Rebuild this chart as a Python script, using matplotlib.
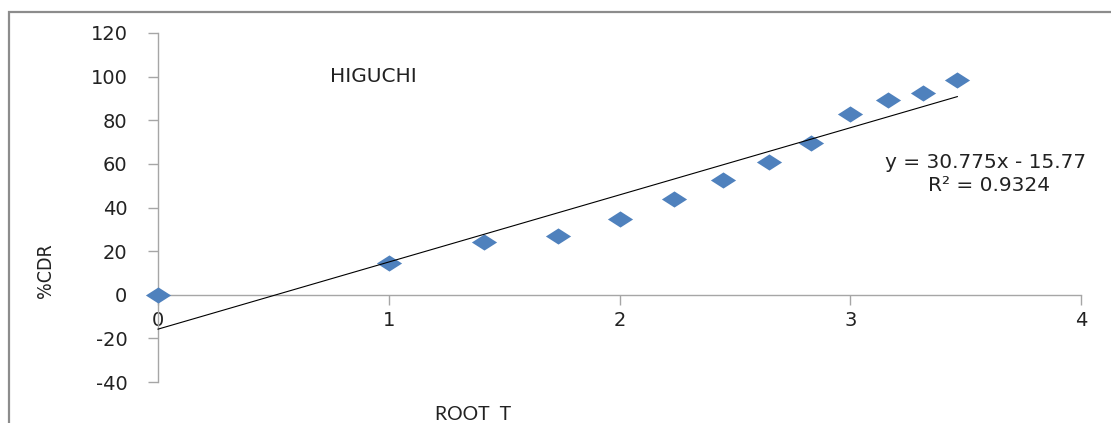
import matplotlib
matplotlib.use("Agg")
import matplotlib.pyplot as plt
from matplotlib.path import Path
from matplotlib.patches import Rectangle
import numpy as np

plt.rcParams["axes.unicode_minus"] = False

# Square root of time and cumulative % drug released
root_t = [0, 1, 1.414, 1.732, 2, 2.236, 2.449, 2.646, 2.828, 3, 3.162, 3.317, 3.464]
cdr = [0, 14.7, 24.3, 27.1, 34.9, 44.0, 52.8, 61.0, 69.7, 83.0, 89.4, 92.7, 98.6]

# Linear trendline reported on the chart
slope = 30.775
intercept = -15.77
r_squared = 0.9324

x_ticks = [0, 1, 2, 3, 4]
y_ticks = [-40, -20, 0, 20, 40, 60, 80, 100, 120]

fig = plt.figure(figsize=(11.11, 4.23), dpi=100)
ax = fig.add_axes([158 / 1111, 1 - 382 / 423, (1081 - 158) / 1111, (382 - 33) / 423])

# Outer chart frame (left and top edges visible)
frame_left = 8.5 / 1111
frame_top = 1 - 12 / 423
fig.patches.append(Rectangle((frame_left, -0.2), 1.2, frame_top + 0.2,
                             transform=fig.transFigure, fill=False,
                             edgecolor="#8c8c8c", linewidth=1.6))

# Wide diamond marker
diamond = Path([(-1, 0), (0, 0.64), (1, 0), (0, -0.64), (-1, 0)],
               [Path.MOVETO, Path.LINETO, Path.LINETO, Path.LINETO, Path.CLOSEPOLY])

ax.scatter(root_t, cdr, marker=diamond, s=330, color="#4F81BD", linewidths=0,
           zorder=3, clip_on=False)

xfit = np.array([root_t[0], root_t[-1]])
ax.plot(xfit, slope * xfit + intercept, color="black", linewidth=0.8, zorder=4,
        clip_on=False)

ax.set_xlim(0, 4)
ax.set_ylim(-40, 120)
ax.set_xticks(x_ticks)
ax.set_yticks(y_ticks)

for s in ["top", "right"]:
    ax.spines[s].set_visible(False)
ax.spines["bottom"].set_position(("data", 0))
ax.spines["left"].set_position(("data", 0))
for s in ["bottom", "left"]:
    ax.spines[s].set_color("#a6a6a6")
    ax.spines[s].set_linewidth(1.0)

ax.tick_params(axis="both", direction="out", length=7, width=1.0, color="#a6a6a6",
               labelcolor="#222222")
ax.tick_params(axis="y", labelsize=14, pad=15)
ax.tick_params(axis="x", labelsize=14, pad=5)
for lbl in ax.get_yticklabels() + ax.get_xticklabels():
    lbl.set_family("DejaVu Sans")

ax.text(0.745, 100, "HIGUCHI", fontsize=14.5, color="#222222", ha="left", va="center",
        family="DejaVu Sans")
ax.text(3.585, 60.5, f"y = {slope}x - {abs(intercept)}", fontsize=14.5, color="#222222",
        ha="center", va="center", family="DejaVu Sans")
ax.text(3.6, 50.3, f"R² = {r_squared}", fontsize=14.5, color="#222222",
        ha="center", va="center", family="DejaVu Sans")

fig.text(46 / 1111, 1 - 271 / 423, "%CDR", rotation=90, fontsize=14, color="#222222",
         ha="center", va="center", family="DejaVu Sans", fontstretch="condensed")
fig.text(473 / 1111, 1 - 414 / 423, "ROOT  T", fontsize=14, color="#222222",
         ha="center", va="center", family="Lato")

fig.savefig("out.png", dpi=100)
